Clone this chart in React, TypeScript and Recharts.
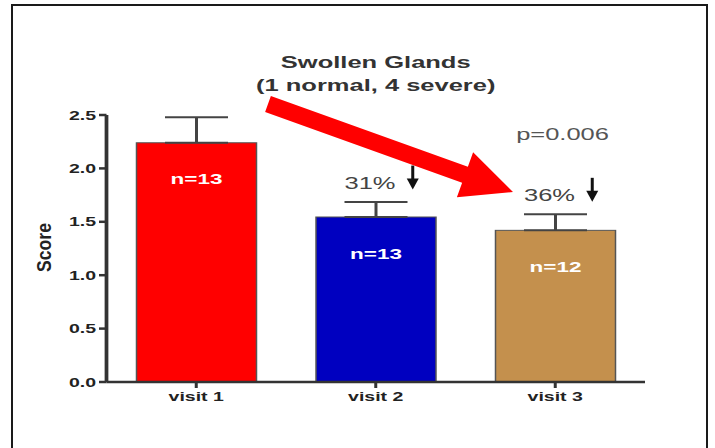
import React from 'react';
import { ComposedChart, Bar, ErrorBar, XAxis, YAxis, LabelList, Customized } from 'recharts';

const visits = ['visit 1', 'visit 2', 'visit 3'];
const scores = [2.24, 1.545, 1.42];
const sem = [0.24, 0.14, 0.15];
const counts = [13, 13, 12];
const dropPct = ['', '31%', '36%'];
const pValues = ['', '', 'p=0.006'];
const barColors = ['#FF0000', '#0000C0', '#C4904D'];
const yTicks = [0, 0.5, 1, 1.5, 2, 2.5];

// error bars only point upwards, so the low side is 0
const data = visits.map((visit, i) => ({
  visit,
  score: scores[i],
  err: [0, sem[i]],
  n: counts[i],
}));

const FONT = '"Liberation Sans", Arial, sans-serif';
// the source picture is stretched sideways, so the chart is drawn narrow and widened
const STRETCH = 1.5;
const W = 477;
const H = 448;

function BarShape(props: any) {
  const { x, y, width, height, index } = props;
  const unit = height / scores[index];
  const capY = y - sem[index] * unit;
  const cx = x + width / 2;
  const pct = dropPct[index];
  const p = pValues[index];
  const ax = cx + 24.5;
  const ab = capY - 12.5;
  return (
    <g>
      <rect x={x} y={y} width={width} height={height} fill={barColors[index]} stroke="#555" strokeWidth={1} />
      {pct && (
        <text x={cx - 4} y={capY - 13.5} textAnchor="middle" fontSize={17} fill="#444" fontFamily={FONT}>
          {pct}
        </text>
      )}
      {pct && (
        <g fill="#111" stroke="none">
          <rect x={ax - 1} y={ab - 24} width={2} height={14} />
          <path d={`M${ax - 4},${ab - 11} L${ax + 4},${ab - 11} L${ax},${ab} Z`} />
        </g>
      )}
      {p && (
        <text x={cx + 4.7} y={capY - 74} textAnchor="middle" fontSize={17} fill="#555" fontFamily={FONT}>
          {p}
        </text>
      )}
    </g>
  );
}

function Titles() {
  return (
    <g fontFamily={FONT} fontWeight="bold" fill="#333">
      <text x={250.5} y={68} textAnchor="middle" fontSize={17}>Swollen Glands</text>
      <text x={250.5} y={91} textAnchor="middle" fontSize={17}>(1 normal, 4 severe)</text>
      <text
        x={29.5}
        y={247.5}
        transform="rotate(-90, 29.5, 247.5)"
        textAnchor="middle"
        dominantBaseline="central"
        fontSize={13.5}
        fill="#222"
        textLength={49}
        lengthAdjust="spacingAndGlyphs"
      >
        Score
      </text>
    </g>
  );
}

function bigArrow() {
  const tail = [268, 104];
  const tip = [513, 192];
  const shaft = 8.5;
  const headLen = 51;
  const headHalf = 24;
  const dx = tip[0] - tail[0];
  const dy = tip[1] - tail[1];
  const len = Math.hypot(dx, dy);
  const ux = dx / len, uy = dy / len;
  const nx = -uy, ny = ux;
  const bx = tip[0] - headLen * ux, by = tip[1] - headLen * uy;
  const pts = [
    [tail[0] + shaft * nx, tail[1] + shaft * ny],
    [tail[0] - shaft * nx, tail[1] - shaft * ny],
    [bx - shaft * nx, by - shaft * ny],
    [bx - headHalf * nx, by - headHalf * ny],
    tip,
    [bx + headHalf * nx, by + headHalf * ny],
    [bx + shaft * nx, by + shaft * ny],
  ];
  return pts.map((q) => q.join(',')).join(' ');
}

export default function App() {
  return (
    <div style={{ position: 'absolute', left: 0, top: 0, width: 715, height: 448, overflow: 'hidden', background: '#fff' }}>
      <div
        style={{
          position: 'absolute',
          left: 11,
          top: 4,
          width: 697,
          height: 470,
          boxSizing: 'border-box',
          border: '2px solid #1a1a1a',
          borderBottom: 'none',
        }}
      />
      <div style={{ position: 'absolute', left: 0, top: 0, width: W, height: H, transform: `scaleX(${STRETCH})`, transformOrigin: '0 0' }}>
        <ComposedChart width={W} height={H} data={data} margin={{ top: 115, right: 47, bottom: 36, left: 11 }}>
          <XAxis
            dataKey="visit"
            height={30}
            tickSize={6}
            tickMargin={4}
            axisLine={{ stroke: '#333', strokeWidth: 2.5 }}
            tickLine={{ stroke: '#333', strokeWidth: 2 }}
            tick={{ fontSize: 13, fontWeight: 'bold', fill: '#222', fontFamily: FONT }}
          />
          <YAxis
            type="number"
            domain={[0, 2.5]}
            ticks={yTicks}
            width={60}
            tickSize={5}
            tickMargin={2}
            tickFormatter={(v: number) => v.toFixed(1)}
            axisLine={{ stroke: '#333', strokeWidth: 2.5 }}
            tickLine={{ stroke: '#333', strokeWidth: 2.5 }}
            tick={{ fontSize: 13, fontWeight: 'bold', fill: '#222', fontFamily: FONT }}
          />
          <Bar dataKey="score" barSize={80} shape={BarShape} isAnimationActive={false}>
            <ErrorBar dataKey="err" direction="y" width={21} stroke="#444" strokeWidth={2} isAnimationActive={false} />
            <LabelList
              dataKey="n"
              position="insideTop"
              offset={31}
              formatter={(v: any) => `n=${v}`}
              fill="#fff"
              fontSize={15}
              fontWeight="bold"
              fontFamily={FONT}
            />
          </Bar>
          <Customized component={Titles} />
        </ComposedChart>
      </div>
      <svg width={715} height={448} style={{ position: 'absolute', left: 0, top: 0, pointerEvents: 'none' }}>
        <polygon points={bigArrow()} fill="#FF0000" />
      </svg>
    </div>
  );
}
